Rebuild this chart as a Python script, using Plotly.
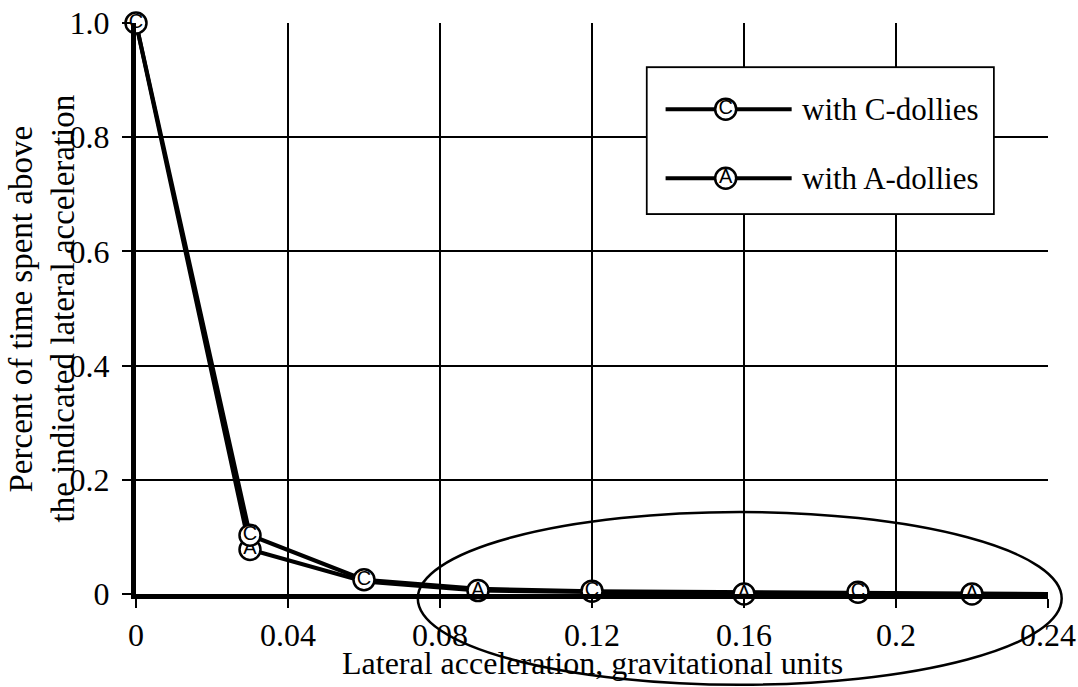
import plotly.graph_objects as go

# ---- data ----
c_line_x = [0.0, 0.03, 0.06, 0.09, 0.12, 0.19, 0.24]
c_line_y = [1.0, 0.103, 0.025, 0.009, 0.005, 0.003, 0.0]
c_mark_x = [0.0, 0.03, 0.06, 0.12, 0.19]
c_mark_y = [1.0, 0.103, 0.025, 0.005, 0.003]

a_line_x = [0.0, 0.03, 0.06, 0.09, 0.16, 0.22, 0.24]
a_line_y = [1.0, 0.078, 0.022, 0.006, 0.0, 0.0, 0.0]
a_mark_x = [0.03, 0.09, 0.16, 0.22]
a_mark_y = [0.078, 0.006, 0.0, 0.0]

x_ticks = [0, 0.04, 0.08, 0.12, 0.16, 0.2, 0.24]
x_tick_text = ["0", "0.04", "0.08", "0.12", "0.16", "0.2", "0.24"]
y_ticks = [0, 0.2, 0.4, 0.6, 0.8, 1.0]
y_tick_text = ["0", "0.2", "0.4", "0.6", "0.8", "1.0"]

legend_names = ["with C-dollies", "with A-dollies"]
legend_letters = ["C", "A"]

FONT = "Liberation Serif, Times New Roman, serif"

fig = go.Figure()

marker_style = dict(size=21, color="white", line=dict(color="black", width=2.5))
text_font = dict(family="Liberation Sans, Arial, sans-serif", size=20, color="black")

# A series
fig.add_trace(go.Scatter(x=a_line_x, y=a_line_y, mode="lines",
                         line=dict(color="black", width=4), showlegend=False))
# C series
fig.add_trace(go.Scatter(x=c_line_x, y=c_line_y, mode="lines",
                         line=dict(color="black", width=4), showlegend=False))
fig.add_trace(go.Scatter(x=a_mark_x, y=a_mark_y, mode="markers+text",
                         text=["A"] * len(a_mark_x), textposition="middle center",
                         textfont=text_font, marker=marker_style,
                         cliponaxis=False, showlegend=False))
fig.add_trace(go.Scatter(x=c_mark_x, y=c_mark_y, mode="markers+text",
                         text=["C"] * len(c_mark_x), textposition="middle center",
                         textfont=text_font, marker=marker_style,
                         cliponaxis=False, showlegend=False))

# ---- custom legend in its own small subplot ----
leg_rows = [0.717, 0.241]
for name, letter, yr in zip(legend_names, legend_letters, leg_rows):
    fig.add_trace(go.Scatter(x=[0.052, 0.417], y=[yr, yr], mode="lines",
                             line=dict(color="black", width=4),
                             xaxis="x2", yaxis="y2", showlegend=False, hoverinfo="skip"))
    fig.add_trace(go.Scatter(x=[0.226], y=[yr], mode="markers+text", text=[letter],
                             textposition="middle center", textfont=text_font,
                             marker=marker_style, xaxis="x2", yaxis="y2",
                             cliponaxis=False, showlegend=False, hoverinfo="skip"))
    fig.add_annotation(x=0.44, y=yr, xref="x2", yref="y2", text=name,
                       showarrow=False, xanchor="left", yanchor="middle",
                       font=dict(family=FONT, size=31, color="black"))

fig.add_shape(type="rect", xref="paper", yref="paper",
              x0=0.561, x1=0.9397, y0=0.667, y1=0.921,
              line=dict(color="black", width=3.5), fillcolor="rgba(0,0,0,0)", layer="below")

# hand-drawn ellipse highlight
fig.add_shape(type="circle", xref="paper", yref="paper",
              x0=0.309, x1=1.015, y0=-0.159, y1=0.1436,
              line=dict(color="black", width=2.5))

# y title (two lines)
fig.add_annotation(x=-0.1261, y=0.5, xref="paper", yref="paper",
                   text="Percent of time spent above", textangle=-90, showarrow=False,
                   xanchor="center", yanchor="middle",
                   font=dict(family=FONT, size=33, color="black"))
fig.add_annotation(x=-0.0811, y=0.5, xref="paper", yref="paper",
                   text="the indicated lateral acceleration", textangle=-90, showarrow=False,
                   xanchor="center", yanchor="middle",
                   font=dict(family=FONT, size=33, color="black"))

# x title
fig.add_annotation(x=0.5, y=-0.121, xref="paper", yref="paper",
                   text="Lateral acceleration, gravitational units", showarrow=False,
                   xanchor="center", yanchor="middle",
                   font=dict(family=FONT, size=32, color="black"))

fig.update_layout(
    width=1078, height=687,
    margin=dict(l=136, r=30, t=23, b=93, autoexpand=False),
    paper_bgcolor="white", plot_bgcolor="white",
    font=dict(family=FONT, size=32, color="black"),
    xaxis=dict(range=[0, 0.24], tickvals=x_ticks, ticktext=x_tick_text,
               showgrid=True, gridcolor="black", gridwidth=1.5,
               showline=True, linecolor="black", linewidth=5,
               ticks="outside", ticklen=9, tickwidth=2, tickcolor="black",
               zeroline=False, automargin=False),
    yaxis=dict(range=[0, 1.0], tickvals=y_ticks, ticktext=y_tick_text,
               showgrid=True, gridcolor="black", gridwidth=1.5,
               showline=True, linecolor="black", linewidth=5,
               ticks="outside", ticklen=9, tickwidth=2, tickcolor="black",
               zeroline=False, automargin=False, ticklabelstandoff=6),
    xaxis2=dict(domain=[0.561, 0.9397], range=[0, 1], visible=False, anchor="y2"),
    yaxis2=dict(domain=[0.667, 0.921], range=[0, 1], visible=False, anchor="x2"),
)

fig.write_html("out.html", post_script="document.body.style.margin='0';",
               config={"displayModeBar": False})
